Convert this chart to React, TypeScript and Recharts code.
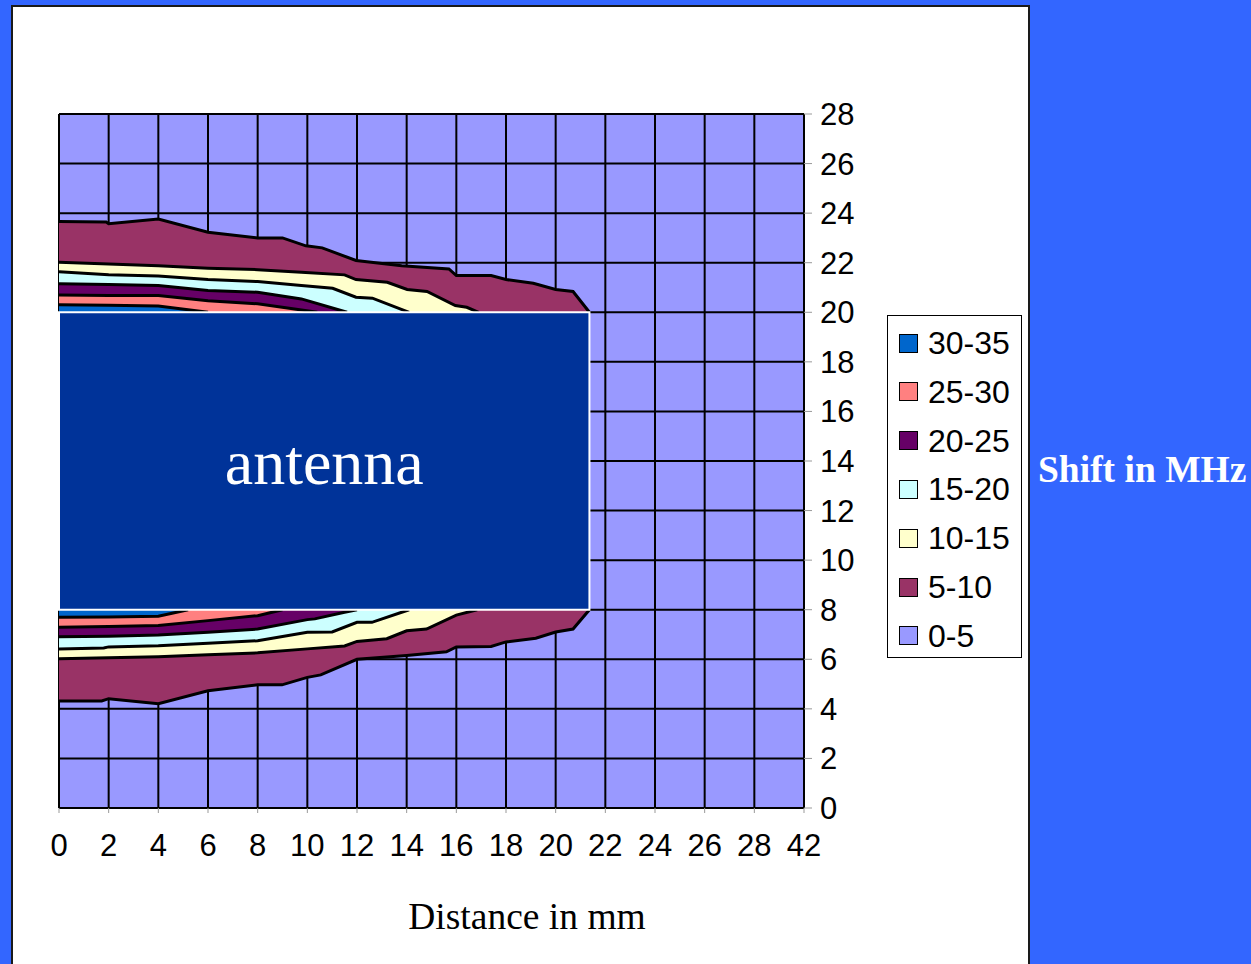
import React from 'react';
import { ComposedChart, Area, XAxis, YAxis, CartesianGrid, ReferenceArea } from 'recharts';

// x positions are grid-column indices (0..15); tick labels below
const xTickLabels = ['0', '2', '4', '6', '8', '10', '12', '14', '16', '18', '20', '22', '24', '26', '28', '42'];
const xTicks = [0, 1, 2, 3, 4, 5, 6, 7, 8, 9, 10, 11, 12, 13, 14, 15];
const yTicks = [0, 2, 4, 6, 8, 10, 12, 14, 16, 18, 20, 22, 24, 26, 28];

// Antenna block
const antennaX = [0, 10.68];
const antennaY = [8, 20];

// Upper contour boundaries (above antenna top, y = 20)
const upper5: [number, number][] = [
  [0, 23.66], [0.95, 23.64], [1, 23.57], [2, 23.76], [3, 23.23], [4, 23.0], [4.5, 23.0], [4.97, 22.68],
  [5.3, 22.6], [5.98, 22.09], [6.9, 21.88], [7.85, 21.75], [8.0, 21.48], [8.7, 21.48], [9.0, 21.32],
  [9.55, 21.17], [10.0, 20.92], [10.35, 20.84], [10.68, 20.0],
];
const upper10: [number, number][] = [
  [0, 22.02], [1, 21.95], [2, 21.88], [3, 21.78], [4, 21.72], [4.88, 21.62], [5.75, 21.51], [5.98, 21.32],
  [6.61, 21.21], [7.01, 20.92], [7.41, 20.84], [7.98, 20.27], [8.21, 20.2], [8.45, 20.0],
];
const upper15: [number, number][] = [
  [0, 21.64], [1, 21.51], [2, 21.46], [3, 21.32], [4, 21.24], [4.88, 21.08], [5.51, 20.97], [5.98, 20.61],
  [6.31, 20.57], [7.05, 20.0],
];
const upper20: [number, number][] = [
  [0, 21.15], [1, 21.12], [2, 21.08], [3, 20.88], [4, 20.81], [4.88, 20.54], [5.8, 20.0],
];
const upper25: [number, number][] = [
  [0, 20.7], [1, 20.68], [2, 20.68], [3, 20.47], [4, 20.34], [5.2, 20.0],
];
const upper30: [number, number][] = [
  [0, 20.3], [1, 20.28], [2, 20.25], [3, 20.0],
];

// Lower contour boundaries (below antenna bottom, y = 8)
const lower5: [number, number][] = [
  [0, 4.32], [0.86, 4.32], [1, 4.41], [2, 4.21], [3, 4.73], [4, 4.97], [4.49, 4.97], [5, 5.27], [5.27, 5.37],
  [6, 6.0], [7, 6.15], [7.8, 6.3], [8, 6.5], [8.7, 6.52], [9, 6.7], [9.6, 6.85], [10, 7.1], [10.35, 7.22],
  [10.68, 8.0],
];
const lower10: [number, number][] = [
  [0, 6.02], [1, 6.06], [2, 6.1], [3, 6.18], [4, 6.26], [5, 6.42], [5.75, 6.54], [6, 6.72], [6.6, 6.83],
  [7, 7.15], [7.4, 7.22], [8, 7.78], [8.42, 8.0],
];
const lower15: [number, number][] = [
  [0, 6.42], [0.9, 6.46], [1, 6.5], [2, 6.55], [3, 6.65], [4, 6.75], [5, 7.09], [5.5, 7.1], [6, 7.49],
  [6.3, 7.49], [7.05, 8.0],
];
const lower20: [number, number][] = [
  [0, 6.91], [1, 6.93], [2, 6.98], [3, 7.09], [4, 7.22], [5, 7.6], [5.15, 7.63], [5.75, 7.9], [6, 8.0],
];
const lower25: [number, number][] = [
  [0, 7.29], [1, 7.32], [2, 7.36], [3, 7.56], [4, 7.76], [4.5, 8.0],
];
const lower30: [number, number][] = [
  [0, 7.7], [1, 7.71], [2, 7.74], [2.6, 8.0],
];

const legendLabels = ['30-35', '25-30', '20-25', '15-20', '10-15', '5-10', '0-5'];
const legendColors = ['#0066CC', '#FF8080', '#660066', '#CCFFFF', '#FFFFCC', '#993366', '#9999FF'];

const C30 = '#0066CC';
const C25 = '#FF8080';
const C20 = '#660066';
const C15 = '#CCFFFF';
const C10 = '#FFFFCC';
const C5 = '#993366';
const C0 = '#9999FF';

const toPts = (arr: [number, number][]) => arr.map(([x, y]) => ({ x, y }));

const upperSeries = [
  { pts: upper5, color: C5 },
  { pts: upper10, color: C10 },
  { pts: upper15, color: C15 },
  { pts: upper20, color: C20 },
  { pts: upper25, color: C25 },
  { pts: upper30, color: C30 },
];
const lowerSeries = [
  { pts: lower5, color: C5 },
  { pts: lower10, color: C10 },
  { pts: lower15, color: C15 },
  { pts: lower20, color: C20 },
  { pts: lower25, color: C25 },
  { pts: lower30, color: C30 },
];

const sans = '"Liberation Sans", Arial, sans-serif';
const serif = '"Liberation Serif", "Times New Roman", serif';

export default function App() {
  return (
    <div style={{ position: 'absolute', left: 0, top: 0, width: 1251, height: 964, background: '#3366FF', overflow: 'hidden' }}>
      <div style={{ position: 'absolute', left: 11, top: 5, width: 1019, height: 970, background: '#fff', border: '2px solid #1a1a1a', boxSizing: 'border-box' }} />
      <div style={{ position: 'absolute', left: 0, top: 0 }}>
        <ComposedChart width={1251} height={964} margin={{ top: 114, left: 59, right: 387, bottom: 95 }}>
          <CartesianGrid horizontal={false} vertical={false} fill={C0} fillOpacity={1} stroke="none" />
          <XAxis
            dataKey="x"
            type="number"
            domain={[0, 15]}
            ticks={xTicks}
            interval={0}
            allowDataOverflow
            height={61}
            tickFormatter={(v: number) => xTickLabels[v]}
            tick={{ fontSize: 31, fill: '#000', fontFamily: sans }}
            axisLine={false}
            tickLine={{ stroke: '#999', strokeWidth: 1 }}
            tickSize={5}
            tickMargin={21}
          />
          <YAxis
            orientation="right"
            type="number"
            domain={[0, 28]}
            ticks={yTicks}
            interval={0}
            allowDataOverflow
            width={60}
            tick={{ fontSize: 31, fill: '#000', fontFamily: sans }}
            axisLine={false}
            tickLine={{ stroke: '#999', strokeWidth: 1 }}
            tickSize={8}
            tickMargin={8}
          />
          {upperSeries.map((s, i) => (
            <Area
              key={'u' + i}
              data={toPts(s.pts)}
              dataKey="y"
              type="linear"
              baseValue={20}
              fill={s.color}
              fillOpacity={1}
              stroke="#000"
              strokeWidth={3}
              isAnimationActive={false}
              dot={false}
              activeDot={false}
            />
          ))}
          {lowerSeries.map((s, i) => (
            <Area
              key={'l' + i}
              data={toPts(s.pts)}
              dataKey="y"
              type="linear"
              baseValue={8}
              fill={s.color}
              fillOpacity={1}
              stroke="#000"
              strokeWidth={3}
              isAnimationActive={false}
              dot={false}
              activeDot={false}
            />
          ))}
          <CartesianGrid stroke="#000" strokeWidth={2} fill="none" strokeOpacity={1} />
          <ReferenceArea
            x1={antennaX[0]}
            x2={antennaX[1]}
            y1={antennaY[0]}
            y2={antennaY[1]}
            fill="#003399"
            fillOpacity={1}
            stroke="#fff"
            strokeWidth={2}
            label={{ value: 'antenna', position: 'center', fill: '#fff', fontSize: 64, fontFamily: serif }}
          />
        </ComposedChart>
      </div>
      {/* legend */}
      <div style={{ position: 'absolute', left: 887, top: 315, width: 135, height: 343, border: '1.5px solid #000', background: '#fff', boxSizing: 'border-box' }} />
      {legendLabels.map((lab, i) => {
        const cy = 343 + i * 48.8;
        return (
          <React.Fragment key={lab}>
            <div style={{ position: 'absolute', left: 899, top: cy - 9.5, width: 19, height: 19, background: legendColors[i], border: '1.5px solid #000', boxSizing: 'border-box' }} />
            <div style={{ position: 'absolute', left: 928, top: cy - 16, fontFamily: sans, fontSize: 32, lineHeight: '32px', color: '#000', whiteSpace: 'nowrap' }}>{lab}</div>
          </React.Fragment>
        );
      })}
      <div style={{ position: 'absolute', left: 1038, top: 451, fontFamily: serif, fontWeight: 'bold', fontSize: 37.5, lineHeight: '37px', color: '#fff', whiteSpace: 'nowrap' }}>
        Shift in MHz
      </div>
      <div style={{ position: 'absolute', left: 327, width: 400, top: 898, textAlign: 'center', fontFamily: serif, fontSize: 37.5, lineHeight: '37px', color: '#000', whiteSpace: 'nowrap' }}>
        Distance in mm
      </div>
    </div>
  );
}
